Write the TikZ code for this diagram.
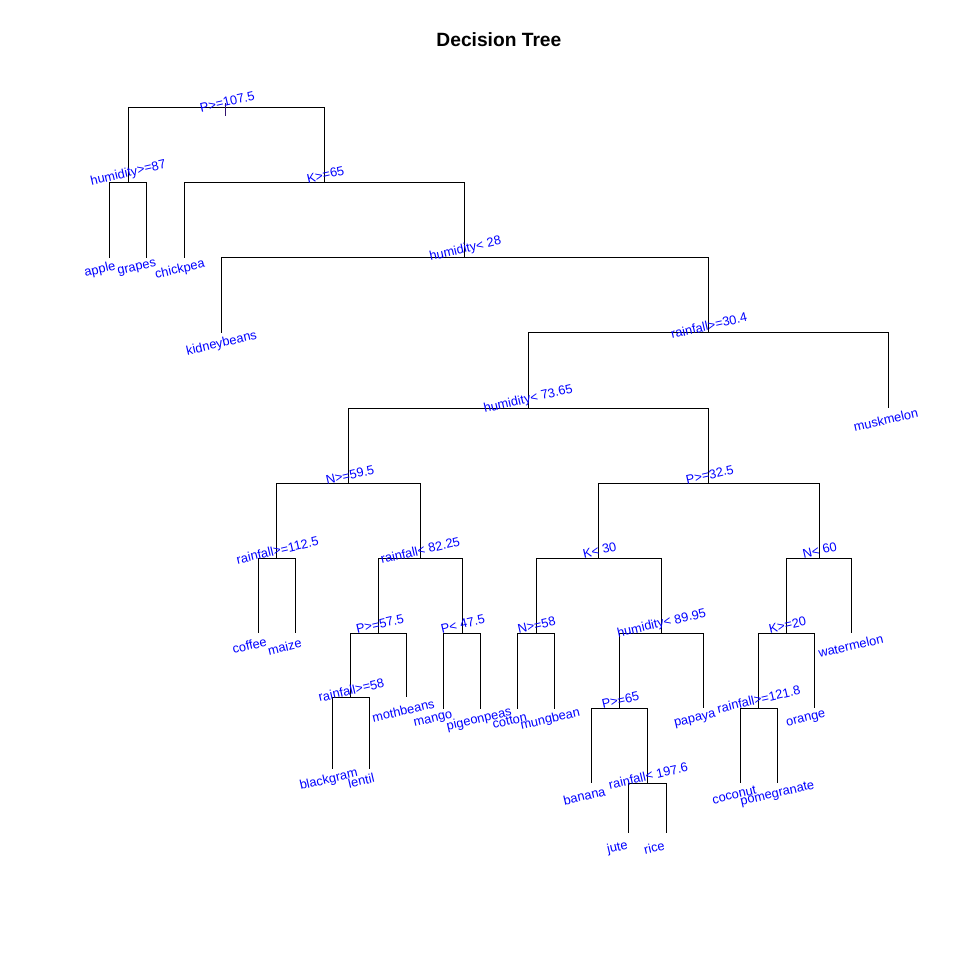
\documentclass[tikz,border=0pt]{standalone}
\usepackage{fontspec}
\setmainfont{Liberation Sans}
\begin{document}
\begin{tikzpicture}[x=1pt,y=-1pt,
  edge/.style={draw=black,line width=1pt},
  lbl/.style={text=blue,font=\fontsize{12.8}{14}\selectfont,inner sep=0pt,rotate=13,anchor=center},
  ttl/.style={font=\fontsize{19.2}{22}\selectfont\bfseries,inner sep=0pt,anchor=base}]
\useasboundingbox[fill=white] (0,0) rectangle (960,960);
% title
\node[ttl] (title) at (498.9,46.7) {Decision Tree};
% tree points
\coordinate (n1) at (225.3,107.3);
\coordinate (n2) at (128.3,182.3);
\coordinate (n3) at (324.3,182.3);
\coordinate (apple) at (109.3,257.5);
\coordinate (grapes) at (146.3,257.5);
\coordinate (chickpea) at (184.3,257.5);
\coordinate (n7) at (464.3,257.5);
\coordinate (kidneybeans) at (221.3,332.5);
\coordinate (n15) at (708.3,332.5);
\coordinate (n30) at (528.3,408.3);
\coordinate (muskmelon) at (888.3,408.3);
\coordinate (n60) at (348.3,483.3);
\coordinate (n61) at (708.3,483.3);
\coordinate (n120) at (276.7,558.3);
\coordinate (n121) at (420.3,558.3);
\coordinate (coffee) at (258.3,632.5);
\coordinate (maize) at (295.7,632.5);
\coordinate (n242) at (378.3,633.3);
\coordinate (n243) at (462.3,633.3);
\coordinate (n484) at (350.3,697.3);
\coordinate (mothbeans) at (406.3,697.3);
\coordinate (blackgram) at (332.3,769.3);
\coordinate (lentil) at (369.3,769.3);
\coordinate (mango) at (443.3,708.7);
\coordinate (pigeonpeas) at (480.3,708.7);
\coordinate (n122) at (598.3,558.3);
\coordinate (n123) at (819.3,558.3);
\coordinate (n244) at (536.7,633.3);
\coordinate (n245) at (661.7,633.3);
\coordinate (cotton) at (517.3,708.5);
\coordinate (mungbean) at (554.3,708.5);
\coordinate (n490) at (619.3,708.3);
\coordinate (papaya) at (703.3,708.3);
\coordinate (banana) at (591.7,783.3);
\coordinate (n981) at (647.3,783.3);
\coordinate (jute) at (628.3,833.3);
\coordinate (rice) at (666.3,833.3);
\coordinate (n246) at (786.3,633.3);
\coordinate (watermelon) at (851.7,633.3);
\coordinate (n492) at (758.3,708.3);
\coordinate (orange) at (814.3,708.3);
\coordinate (coconut) at (740.7,783.3);
\coordinate (pomegranate) at (777.3,783.3);
% edges
\foreach \p/\c in {n1/n2,n1/n3,n2/apple,n2/grapes,n3/chickpea,n3/n7,
  n7/kidneybeans,n7/n15,n15/n30,n15/muskmelon,n30/n60,n30/n61,
  n60/n120,n60/n121,n120/coffee,n120/maize,n121/n242,n121/n243,
  n242/n484,n242/mothbeans,n484/blackgram,n484/lentil,n243/mango,n243/pigeonpeas,
  n61/n122,n61/n123,n122/n244,n122/n245,n244/cotton,n244/mungbean,
  n245/n490,n245/papaya,n490/banana,n490/n981,n981/jute,n981/rice,
  n123/n246,n123/watermelon,n246/n492,n246/orange,n492/coconut,n492/pomegranate}
  \draw[edge] (\p) -| (\c);
% root tick
\coordinate (tickb) at (225.3,116);
\draw[line width=1pt,draw={rgb,255:red,50;green,20;blue,110}] (n1) ++(0,-4.3) -- (tickb);
% split labels
\node[lbl] (l1) at (227.3,101.7) {P>=107.5};
\node[lbl] (l2) at (128.3,173.5) {humidity>=87};
\node[lbl] (l3) at (325.5,174.5) {K>=65};
\node[lbl] (l7) at (465.5,249.3) {humidity< 28};
\node[lbl] (l15) at (709,325.5) {rainfall>=30.4};
\node[lbl] (l30) at (528.3,399.5) {humidity< 73.65};
\node[lbl] (l61) at (709.8,474.7) {P>=32.5};
\node[lbl] (l60) at (350,475) {N>=59.5};
\node[lbl] (l120) at (277.5,550.3) {rainfall>=112.5};
\node[lbl] (l121) at (420.3,550.3) {rainfall< 82.25};
\node[lbl] (l242) at (380,624) {P>=57.5};
\node[lbl] (l243) at (462.8,624) {P< 47.5};
\node[lbl] (l122) at (599.7,550) {K< 30};
\node[lbl] (l244) at (536.5,625.3) {N>=58};
\node[lbl] (l245) at (661.7,623.8) {humidity< 89.95};
\node[lbl] (l490) at (620.5,700.3) {P>=65};
\node[lbl] (l123) at (819.7,550) {N< 60};
\node[lbl] (l246) at (787.5,625) {K>=20};
\node[lbl] (l492) at (758.7,699.2) {rainfall>=121.8};
\node[lbl] (l484) at (351.3,690) {rainfall>=58};
\node[lbl] (l981) at (648.3,775.8) {rainfall< 197.6};
% leaf labels
\node[lbl] (tapple) at (100,270) {apple};
\node[lbl] (tgrapes) at (137,268.3) {grapes};
\node[lbl] (tchickpea) at (180,269.7) {chickpea};
\node[lbl] (tkidneybeans) at (221.7,343.8) {kidneybeans};
\node[lbl] (tmuskmelon) at (885.8,420) {muskmelon};
\node[lbl] (tcoffee) at (249.5,645.3) {coffee};
\node[lbl] (tmaize) at (284.7,646.7) {maize};
\node[lbl] (tmothbeans) at (403.3,710.5) {mothbeans};
\node[lbl] (tmango) at (433.3,720) {mango};
\node[lbl] (tpigeonpeas) at (479.2,719.7) {pigeonpeas};
\node[lbl] (tcotton) at (509.7,720.8) {cotton};
\node[lbl] (tmungbean) at (550.3,719.5) {mungbean};
\node[lbl] (tblackgram) at (328.8,780) {blackgram};
\node[lbl] (tlentil) at (361.2,780.8) {lentil};
\node[lbl] (tpapaya) at (695,720) {papaya};
\node[lbl] (torange) at (806,719.5) {orange};
\node[lbl] (tbanana) at (584.3,795.8) {banana};
\node[lbl] (tcoconut) at (734.2,795) {coconut};
\node[lbl] (tpomegranate) at (777.5,794.2) {pomegranate};
\node[lbl] (tjute) at (617.5,848) {jute};
\node[lbl] (trice) at (654.2,847.5) {rice};
\node[lbl] (twatermelon) at (850.7,645.8) {watermelon};
\end{tikzpicture}
\end{document}
